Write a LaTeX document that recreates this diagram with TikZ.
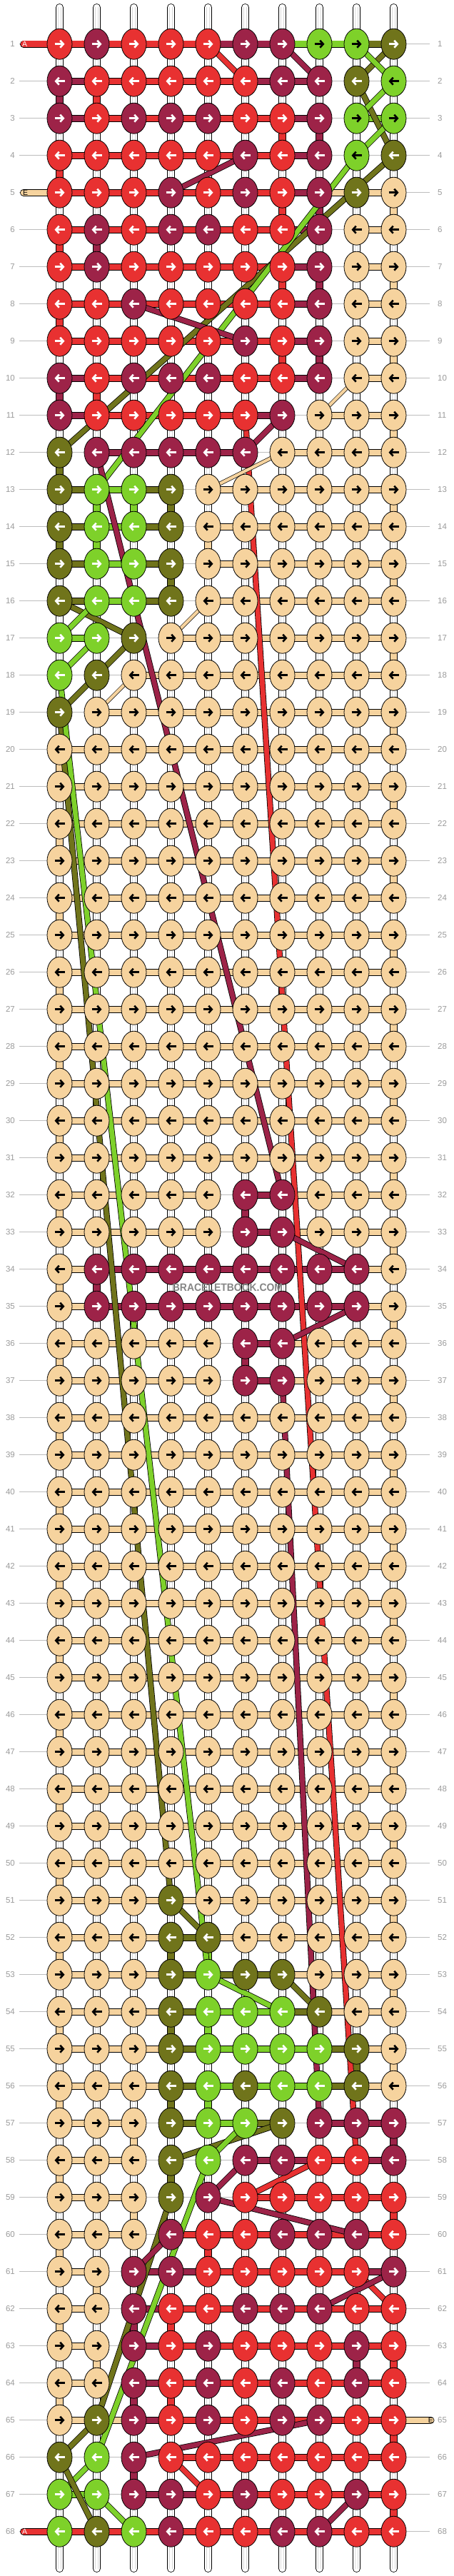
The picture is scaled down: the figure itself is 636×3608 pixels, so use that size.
\documentclass[tikz,border=0pt]{standalone}
\usepackage{fontspec}
\setmainfont{Liberation Sans}
\usetikzlibrary{arrows.meta, shapes.geometric, backgrounds}

\definecolor{kR}{HTML}{E83131}
\definecolor{kM}{HTML}{9D2348}
\definecolor{kG}{HTML}{7ED12A}
\definecolor{kg}{HTML}{7ED12A}
\definecolor{kO}{HTML}{70741B}
\definecolor{kB}{HTML}{F6D39E}
\colorlet{aR}{white}
\colorlet{aM}{white}
\colorlet{aG}{white}
\colorlet{ag}{black}
\colorlet{aO}{white}
\colorlet{aB}{black}
\definecolor{rulegray}{HTML}{BDBDBD}
\definecolor{labelgray}{HTML}{9A9A9A}
\definecolor{markgray}{HTML}{858585}

\begin{document}
\begin{tikzpicture}[x=1pt, y=-1pt,
    knot/.style = {draw, line width=0.8pt, ellipse, minimum width=35pt, minimum height=43pt, inner sep=0pt, fill=k#1},
    pointer/.style = {draw=a#1, line width=2.6pt, -{Straight Barb[length=4.5pt, width=10pt]}},
    thread/.style = {draw=black, line width=0.8pt, double=k#1, double distance=8.4pt},
    cross/.style = {draw=black, line width=0.8pt, double=k#1, double distance=6.8pt},
    thincross/.style = {draw=black, line width=0.7pt, double=k#1, double distance=4.2pt},
    tube/.style = {draw=black, line width=0.8pt, double=white, double distance=9.4pt, line cap=round},
    rowline/.style = {draw=rulegray, line width=0.8pt},
    rowlabel/.style = {text=labelgray, font=\fontsize{11.5}{12}\selectfont, inner sep=0pt},
    tag/.style = {font=\fontsize{10.5}{11}\selectfont, inner sep=0pt}]
\useasboundingbox (0,0) rectangle (636,3608);

% row numbers
\foreach \r in {1,...,68} {
    \pgfmathsetmacro\y{61.7+52*(\r-1)}
    \node[rowlabel, anchor=east] (l-\r) at (21,\y) {\r};
    \node[rowlabel, anchor=west] (r-\r) at (613,\y) {\r};
    \begin{pgfonlayer}{background}
        \draw[rowline, shorten <=6pt, shorten >=11pt] (l-\r.east) -- (r-\r.west);
    \end{pgfonlayer}
}

% strings
\begin{pgfonlayer}{background}
\foreach \col in {0,...,9} {
    \pgfmathsetmacro\x{83.5+52*\col}
    \coordinate (top-\col) at (\x,10.5);
    \coordinate (bot-\col) at (\x,3597.5);
    \draw[tube] (top-\col) -- (bot-\col);
    \draw[gray!30, line width=5pt] (top-\col) -- (bot-\col);
    \draw[white, line width=3pt] (top-\col) -- (bot-\col);
}
\end{pgfonlayer}

% knots and bars
\foreach \r/\ks/\bs in {
    1/{R,M,R,R,R,M,M,g,g,O}/{R,R,R,R,M,M,G,G,O},
    2/{M,R,R,R,R,R,M,M,O,g}/{M,R,R,R,R,M,M,X,X},
    3/{M,R,M,M,M,R,R,M,g,g}/{M,R,R,R,R,R,M,X,G},
    4/{R,R,R,R,R,M,R,M,g,O}/{R,R,R,R,R,R,M,X,X},
    5/{R,R,R,M,R,M,R,M,O,B}/{R,R,R,R,R,R,M,B,B},
    6/{R,M,R,M,M,R,R,M,B,B}/{R,R,R,R,R,R,M,X,B},
    7/{R,M,R,R,R,R,R,M,B,B}/{R,R,R,R,R,R,M,X,B},
    8/{R,R,M,R,R,R,R,M,B,B}/{R,R,R,R,R,R,M,X,B},
    9/{R,R,R,R,R,M,R,M,B,B}/{R,R,R,R,R,R,M,X,B},
    10/{M,R,M,M,M,R,R,M,B,B}/{M,R,R,R,R,R,M,X,B},
    11/{M,R,R,R,R,R,M,B,B,B}/{M,R,R,R,R,M,X,B,B},
    12/{O,M,M,M,M,M,B,B,B,B}/{X,M,M,M,M,X,B,B,B},
    13/{O,G,G,O,B,B,B,B,B,B}/{O,G,O,X,B,B,B,B,B},
    14/{O,G,G,O,B,B,B,B,B,B}/{O,G,O,X,B,B,B,B,B},
    15/{O,G,G,O,B,B,B,B,B,B}/{O,G,O,X,B,B,B,B,B},
    16/{O,G,G,O,B,B,B,B,B,B}/{O,G,O,X,B,B,B,B,B},
    17/{G,G,O,B,B,B,B,B,B,B}/{G,X,X,B,B,B,B,B,B},
    18/{G,O,B,B,B,B,B,B,B,B}/{X,X,B,B,B,B,B,B,B},
    19/{O,B,B,B,B,B,B,B,B,B}/{X,B,B,B,B,B,B,B,B},
    20/{B,B,B,B,B,B,B,B,B,B}/{B,B,B,B,B,B,B,B,B},
    21/{B,B,B,B,B,B,B,B,B,B}/{B,B,B,B,B,B,B,B,B},
    22/{B,B,B,B,B,B,B,B,B,B}/{B,B,B,B,B,B,B,B,B},
    23/{B,B,B,B,B,B,B,B,B,B}/{B,B,B,B,B,B,B,B,B},
    24/{B,B,B,B,B,B,B,B,B,B}/{B,B,B,B,B,B,B,B,B},
    25/{B,B,B,B,B,B,B,B,B,B}/{B,B,B,B,B,B,B,B,B},
    26/{B,B,B,B,B,B,B,B,B,B}/{B,B,B,B,B,B,B,B,B},
    27/{B,B,B,B,B,B,B,B,B,B}/{B,B,B,B,B,B,B,B,B},
    28/{B,B,B,B,B,B,B,B,B,B}/{B,B,B,B,B,B,B,B,B},
    29/{B,B,B,B,B,B,B,B,B,B}/{B,B,B,B,B,B,B,B,B},
    30/{B,B,B,B,B,B,B,B,B,B}/{B,B,B,B,B,B,B,B,B},
    31/{B,B,B,B,B,B,B,B,B,B}/{B,B,B,B,B,B,B,B,B},
    32/{B,B,B,B,B,M,M,B,B,B}/{B,B,B,B,X,M,B,B,B},
    33/{B,B,B,B,B,M,M,B,B,B}/{B,B,B,B,X,M,B,B,B},
    34/{B,M,M,M,M,M,M,M,M,B}/{B,M,M,M,M,M,M,M,B},
    35/{B,M,M,M,M,M,M,M,M,B}/{B,M,M,M,M,M,M,M,B},
    36/{B,B,B,B,B,M,M,B,B,B}/{B,B,B,B,X,M,B,B,B},
    37/{B,B,B,B,B,M,M,B,B,B}/{B,B,B,B,X,M,B,B,B},
    38/{B,B,B,B,B,B,B,B,B,B}/{B,B,B,B,B,B,B,B,B},
    39/{B,B,B,B,B,B,B,B,B,B}/{B,B,B,B,B,B,B,B,B},
    40/{B,B,B,B,B,B,B,B,B,B}/{B,B,B,B,B,B,B,B,B},
    41/{B,B,B,B,B,B,B,B,B,B}/{B,B,B,B,B,B,B,B,B},
    42/{B,B,B,B,B,B,B,B,B,B}/{B,B,B,B,B,B,B,B,B},
    43/{B,B,B,B,B,B,B,B,B,B}/{B,B,B,B,B,B,B,B,B},
    44/{B,B,B,B,B,B,B,B,B,B}/{B,B,B,B,B,B,B,B,B},
    45/{B,B,B,B,B,B,B,B,B,B}/{B,B,B,B,B,B,B,B,B},
    46/{B,B,B,B,B,B,B,B,B,B}/{B,B,B,B,B,B,B,B,B},
    47/{B,B,B,B,B,B,B,B,B,B}/{B,B,B,B,B,B,B,B,B},
    48/{B,B,B,B,B,B,B,B,B,B}/{B,B,B,B,B,B,B,B,B},
    49/{B,B,B,B,B,B,B,B,B,B}/{B,B,B,B,B,B,B,B,B},
    50/{B,B,B,B,B,B,B,B,B,B}/{B,B,B,B,B,B,B,B,B},
    51/{B,B,B,O,B,B,B,B,B,B}/{B,B,B,B,B,B,B,B,B},
    52/{B,B,B,O,O,B,B,B,B,B}/{B,B,B,O,B,B,B,B,B},
    53/{B,B,B,O,G,O,O,B,B,B}/{B,B,B,O,O,O,B,B,B},
    54/{B,B,B,O,G,G,G,O,B,B}/{B,B,B,O,G,G,O,B,B},
    55/{B,B,B,O,G,G,G,G,O,B}/{B,B,B,O,G,G,G,O,B},
    56/{B,B,B,O,G,O,G,G,O,B}/{B,B,B,O,G,G,G,O,B},
    57/{B,B,B,O,G,G,O,M,M,M}/{B,B,X,O,G,O,X,M,M},
    58/{B,B,B,O,G,M,M,R,R,M}/{B,B,X,X,X,M,M,R,M},
    59/{B,B,B,O,M,R,R,R,R,R}/{B,B,X,X,X,R,R,R,R},
    60/{B,B,B,M,R,R,M,M,M,R}/{B,B,X,R,R,R,R,R,R},
    61/{B,B,M,M,R,R,R,R,R,M}/{B,X,M,M,R,R,R,R,M},
    62/{B,B,M,R,R,M,M,M,R,R}/{B,X,M,R,R,R,R,R,R},
    63/{B,B,M,R,M,R,R,R,M,R}/{B,X,M,R,R,R,R,R,R},
    64/{B,B,M,R,M,R,M,R,M,R}/{B,X,M,R,R,R,R,R,R},
    65/{B,O,M,R,M,R,M,M,R,R}/{B,B,M,R,R,R,R,R,R},
    66/{O,G,M,R,R,R,R,R,R,R}/{X,X,X,R,R,R,R,R,R},
    67/{G,G,M,M,R,M,R,R,M,R}/{G,X,M,M,R,R,R,R,R},
    68/{G,O,G,M,R,R,M,M,R,R}/{R,R,R,R,R,R,R,R,R}} {
    \pgfmathsetmacro\y{61.7+52*(\r-1)}
    \pgfmathtruncatemacro\dir{mod(\r,2)==1 ? 1 : -1}
    \foreach \kc [count=\col from 0] in \ks {
        \pgfmathsetmacro\x{83.5+52*\col}
        \pgfmathsetmacro\xa{\x-7*(\dir)}
        \pgfmathsetmacro\xb{\x+7*(\dir)}
        \node[knot=\kc] (k-\r-\col) at (\x,\y) {};
        \draw[pointer=\kc] (\xa,\y) -- (\xb,\y);
    }
    \begin{pgfonlayer}{background}
    \foreach \bc [count=\col] in \bs {
        \pgfmathtruncatemacro\p{\col-1}
        \if\bc X\else
            \draw[thread=\bc] (k-\r-\p.center) -- (k-\r-\col.center);
        \fi
    }
    \end{pgfonlayer}
}

\begin{pgfonlayer}{background}
% turns down to the next row
\foreach \r/\col/\kc in {2/0/M, 4/0/R, 6/0/R, 8/0/R, 10/0/M, 12/0/O, 14/0/O,
    57/9/M, 59/9/R, 63/9/R, 65/9/R, 67/9/R,
    2/1/R, 3/6/R, 3/7/M, 5/6/R, 5/7/M, 6/1/M, 7/6/R, 7/7/M, 9/6/R, 9/7/M,
    10/1/R, 13/1/G, 13/2/G, 13/3/O, 14/1/G, 14/4/B, 15/3/O,
    32/5/M, 34/1/M, 36/5/M, 52/3/O, 52/4/G, 54/3/O, 54/4/G, 55/8/O,
    56/3/O, 56/4/G, 57/2/B, 58/3/O, 59/2/B, 60/4/R, 61/1/B, 62/2/M,
    62/3/R, 63/1/B, 63/8/M, 64/2/M, 64/3/R, 66/2/M} {
    \pgfmathtruncatemacro\s{\r+1}
    \draw[thread=\kc] (k-\r-\col.center) -- (k-\s-\col.center);
}
\foreach \r in {20,22,...,64} {
    \pgfmathtruncatemacro\s{\r+1}
    \draw[thread=B] (k-\r-0.center) -- (k-\s-0.center);
}
\foreach \r in {5,7,...,55} {
    \pgfmathtruncatemacro\s{\r+1}
    \draw[thread=B] (k-\r-9.center) -- (k-\s-9.center);
}

% loose ends
\coordinate (a-top) at (33,61.7);
\coordinate (e-top) at (33,269.7);
\coordinate (e-bot) at (603.5,3389.7);
\coordinate (a-bot) at (33,3545.7);
\draw[thread=R, line cap=round] (a-top) -- (k-1-0.center);
\draw[thread=B, line cap=round] (e-top) -- (k-5-0.center);
\draw[thread=B, line cap=round] (e-bot) -- (k-65-9.center);
\draw[thread=R, line cap=round] (a-bot) -- (k-68-0.center);

% strings moving across
\foreach \ra/\ca/\rb/\cb/\kc in {1/4/2/5/R, 1/6/2/7/M, 1/9/2/8/O, 1/8/2/9/G,
    2/8/4/9/O, 2/9/3/8/G, 3/9/4/8/G, 4/9/12/0/O, 4/8/13/1/G, 4/5/5/3/M,
    8/2/9/5/M, 11/6/12/5/M, 11/5/58/8/R, 12/1/32/6/M,
    16/0/17/2/O, 16/1/17/0/G, 17/2/19/0/O, 17/1/18/0/G,
    19/0/51/3/O, 18/0/53/4/G, 33/6/34/8/M, 35/8/36/6/M, 37/6/57/7/M,
    51/3/52/4/O, 53/4/54/6/G, 53/6/54/7/O, 57/6/58/3/O, 57/5/58/4/G,
    59/3/65/1/O, 58/4/66/1/G, 58/5/59/4/M, 58/7/59/5/R, 59/4/60/8/M,
    60/3/61/2/M, 61/8/62/9/R, 61/9/62/7/M, 65/7/66/2/M, 65/1/66/0/O,
    66/1/67/0/G, 66/0/68/1/O, 67/1/68/2/G, 66/3/67/4/R, 67/8/68/7/M} {
    \draw[cross=\kc] (k-\ra-\ca.center) -- (k-\rb-\cb.center);
}
\foreach \ra/\ca/\rb/\cb in {10/8/11/7, 12/6/13/4, 16/4/17/3, 18/2/19/1} {
    \draw[thincross=B] (k-\ra-\ca.center) -- (k-\rb-\cb.center);
}
\end{pgfonlayer}

\node[tag, text=white, anchor=west] (a-top-tag) at (31,61.7) {A};
\node[tag, text=black, anchor=west] (e-top-tag) at (32,269.7) {E};
\node[tag, text=black, anchor=east] (e-bot-tag) at (607,3389.7) {E};
\node[tag, text=white, anchor=west] (a-bot-tag) at (31,3545.7) {A};

\node[text=markgray, font=\bfseries\fontsize{15}{15}\selectfont, xscale=0.93] (mark) at (319,1803) {BRACELETBOOK.COM};
\end{tikzpicture}
\end{document}
